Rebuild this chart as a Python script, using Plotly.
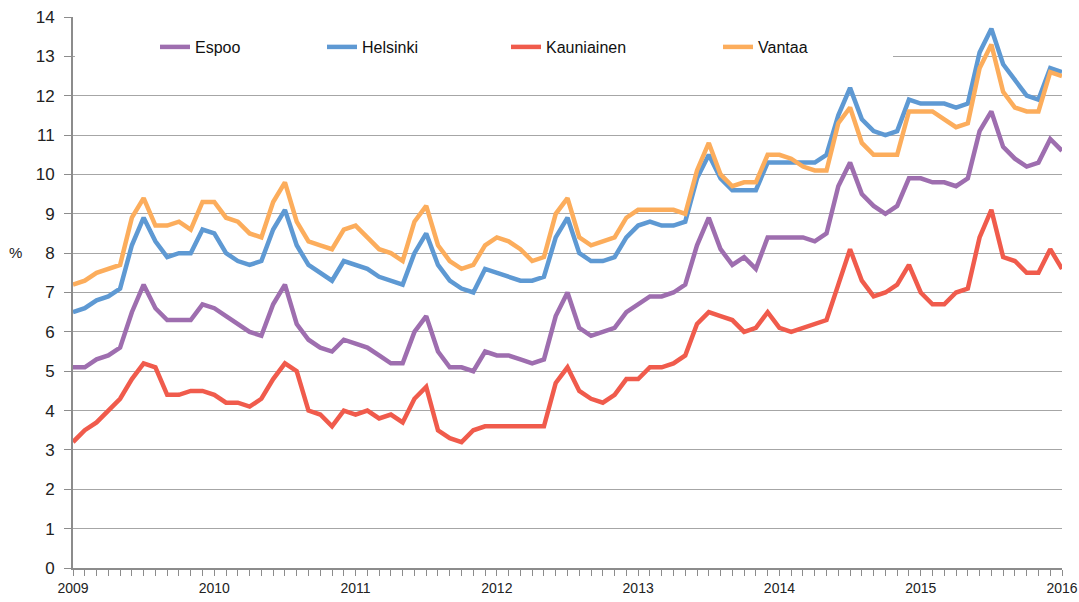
import plotly.graph_objects as go

years = [2009, 2010, 2011, 2012, 2013, 2014, 2015, 2016]
tick_labels = [str(y) for y in years]

espoo = [
    5.1, 5.1, 5.3, 5.4, 5.6, 6.5, 7.2, 6.6, 6.3, 6.3, 6.3, 6.7,
    6.6, 6.4, 6.2, 6.0, 5.9, 6.7, 7.2, 6.2, 5.8, 5.6, 5.5, 5.8,
    5.7, 5.6, 5.4, 5.2, 5.2, 6.0, 6.4, 5.5, 5.1, 5.1, 5.0, 5.5,
    5.4, 5.4, 5.3, 5.2, 5.3, 6.4, 7.0, 6.1, 5.9, 6.0, 6.1, 6.5,
    6.7, 6.9, 6.9, 7.0, 7.2, 8.2, 8.9, 8.1, 7.7, 7.9, 7.6, 8.4,
    8.4, 8.4, 8.4, 8.3, 8.5, 9.7, 10.3, 9.5, 9.2, 9.0, 9.2, 9.9,
    9.9, 9.8, 9.8, 9.7, 9.9, 11.1, 11.6, 10.7, 10.4, 10.2, 10.3, 10.9,
    10.6,
]
helsinki = [
    6.5, 6.6, 6.8, 6.9, 7.1, 8.2, 8.9, 8.3, 7.9, 8.0, 8.0, 8.6,
    8.5, 8.0, 7.8, 7.7, 7.8, 8.6, 9.1, 8.2, 7.7, 7.5, 7.3, 7.8,
    7.7, 7.6, 7.4, 7.3, 7.2, 8.0, 8.5, 7.7, 7.3, 7.1, 7.0, 7.6,
    7.5, 7.4, 7.3, 7.3, 7.4, 8.4, 8.9, 8.0, 7.8, 7.8, 7.9, 8.4,
    8.7, 8.8, 8.7, 8.7, 8.8, 9.9, 10.5, 9.9, 9.6, 9.6, 9.6, 10.3,
    10.3, 10.3, 10.3, 10.3, 10.5, 11.5, 12.2, 11.4, 11.1, 11.0, 11.1, 11.9,
    11.8, 11.8, 11.8, 11.7, 11.8, 13.1, 13.7, 12.8, 12.4, 12.0, 11.9, 12.7,
    12.6,
]
kauniainen = [
    3.2, 3.5, 3.7, 4.0, 4.3, 4.8, 5.2, 5.1, 4.4, 4.4, 4.5, 4.5,
    4.4, 4.2, 4.2, 4.1, 4.3, 4.8, 5.2, 5.0, 4.0, 3.9, 3.6, 4.0,
    3.9, 4.0, 3.8, 3.9, 3.7, 4.3, 4.6, 3.5, 3.3, 3.2, 3.5, 3.6,
    3.6, 3.6, 3.6, 3.6, 3.6, 4.7, 5.1, 4.5, 4.3, 4.2, 4.4, 4.8,
    4.8, 5.1, 5.1, 5.2, 5.4, 6.2, 6.5, 6.4, 6.3, 6.0, 6.1, 6.5,
    6.1, 6.0, 6.1, 6.2, 6.3, 7.2, 8.1, 7.3, 6.9, 7.0, 7.2, 7.7,
    7.0, 6.7, 6.7, 7.0, 7.1, 8.4, 9.1, 7.9, 7.8, 7.5, 7.5, 8.1,
    7.6,
]
vantaa = [
    7.2, 7.3, 7.5, 7.6, 7.7, 8.9, 9.4, 8.7, 8.7, 8.8, 8.6, 9.3,
    9.3, 8.9, 8.8, 8.5, 8.4, 9.3, 9.8, 8.8, 8.3, 8.2, 8.1, 8.6,
    8.7, 8.4, 8.1, 8.0, 7.8, 8.8, 9.2, 8.2, 7.8, 7.6, 7.7, 8.2,
    8.4, 8.3, 8.1, 7.8, 7.9, 9.0, 9.4, 8.4, 8.2, 8.3, 8.4, 8.9,
    9.1, 9.1, 9.1, 9.1, 9.0, 10.1, 10.8, 10.0, 9.7, 9.8, 9.8, 10.5,
    10.5, 10.4, 10.2, 10.1, 10.1, 11.3, 11.7, 10.8, 10.5, 10.5, 10.5, 11.6,
    11.6, 11.6, 11.4, 11.2, 11.3, 12.7, 13.3, 12.1, 11.7, 11.6, 11.6, 12.6,
    12.5,
]

x = [2009 + i / 12 for i in range(len(espoo))]

series = [
    ("Espoo", espoo, "#9E6EAF", "legend"),
    ("Helsinki", helsinki, "#5E99D3", "legend2"),
    ("Kauniainen", kauniainen, "#F05B4C", "legend3"),
    ("Vantaa", vantaa, "#FCAD5C", "legend4"),
]

W, H = 1079, 602
L, R, T, B = 73, 17, 17, 34
pw = W - L - R
ph = H - T - B

def px_x(p):
    return (p - L) / pw

def px_y(p):
    return (H - B - p) / ph

fig = go.Figure()
for name, vals, col, lg in series:
    fig.add_trace(go.Scatter(
        x=x, y=vals, name=name, mode="lines",
        line=dict(color=col, width=4.5),
        legend=lg,
    ))

legend_font = dict(family="Liberation Sans, Arial, sans-serif", size=16, color="#111111")
leg_pos = {"legend": 155, "legend2": 322, "legend3": 506, "legend4": 718}
layout_legends = {}
for lg, p in leg_pos.items():
    layout_legends[lg] = dict(
        x=px_x(p), y=px_y(47), xanchor="left", yanchor="middle",
        orientation="h", bgcolor="rgba(0,0,0,0)", font=legend_font,
        itemwidth=30, borderwidth=0,
    )

tick_font = dict(family="Liberation Sans Narrow, Arial Narrow, Liberation Sans, sans-serif", size=17, color="#222222")

fig.update_layout(
    width=W, height=H,
    margin=dict(l=L, r=R, t=T, b=B, autoexpand=False),
    paper_bgcolor="white", plot_bgcolor="white",
    showlegend=True,
    **layout_legends,
    xaxis=dict(
        range=[2009, 2016], tickvals=years, ticktext=tick_labels,
        showgrid=False, zeroline=False, automargin=False,
        showline=True, linecolor="#8C8C8C", linewidth=2,
        ticks="outside", ticklen=6, tickcolor="#8C8C8C", tickwidth=1,
        tickfont=dict(family=tick_font["family"], size=14, color="#222222"),
        minor=dict(dtick=1 / 12, tick0=2009, ticks="outside", ticklen=6,
                   tickcolor="#8C8C8C", tickwidth=1, showgrid=False),
    ),
    yaxis=dict(
        range=[0, 14], dtick=1, tick0=0, automargin=False,
        showgrid=True, gridcolor="#A6A6A6", gridwidth=1,
        zeroline=False,
        showline=True, linecolor="#8C8C8C", linewidth=2,
        ticks="outside", ticklen=7, tickcolor="#8C8C8C", tickwidth=1,
        tickfont=tick_font, ticklabelstandoff=6,
    ),
    shapes=[dict(
        type="rect", xref="paper", yref="y",
        x0=px_x(75), x1=px_x(893), y0=12.7, y1=13.3,
        fillcolor="white", line=dict(width=0), layer="above",
    )],
    annotations=[dict(
        text="%", xref="paper", yref="paper",
        x=px_x(15), y=px_y(252), xanchor="center", yanchor="middle",
        showarrow=False, font=dict(family="Liberation Sans, Arial, sans-serif", size=15, color="#222222"),
    )],
)

fig.write_html(
    "out.html",
    config={"displayModeBar": False},
    post_script="document.body.style.margin='0px';document.body.style.overflow='hidden';",
)
